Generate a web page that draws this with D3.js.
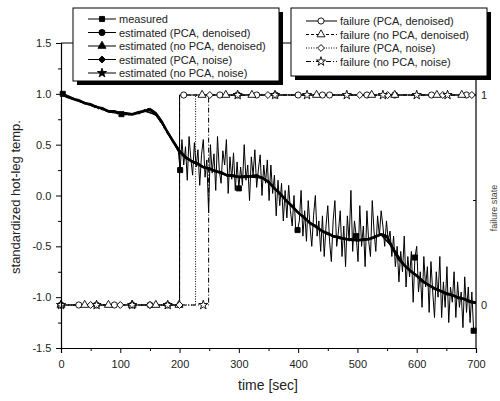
<!DOCTYPE html>
<html>
<head>
<meta charset="utf-8">
<style>
  body { margin: 0; background: #fff; }
  svg { font-family: "Liberation Sans", Arial, sans-serif; }
</style>
</head>
<body>
<svg width="500" height="401"></svg>
<script src="https://d3js.org/d3.v7.min.js"></script>
<script>
// measured temperature, one sample every 3 s starting at t=0
const measStep = 3;
const measured = [
  1.02, 1.00, 0.99, 0.98, 0.97, 0.97, 0.95, 0.96, 0.94, 0.93,
  0.94, 0.92, 0.92, 0.90, 0.91, 0.89, 0.90, 0.88, 0.88, 0.86,
  0.88, 0.85, 0.86, 0.84, 0.85, 0.83, 0.84, 0.82, 0.83, 0.81,
  0.83, 0.81, 0.80, 0.82, 0.80, 0.81, 0.79, 0.81, 0.79, 0.80,
  0.81, 0.79, 0.81, 0.82, 0.80, 0.83, 0.82, 0.85, 0.83, 0.86,
  0.83, 0.85, 0.81, 0.80, 0.77, 0.76, 0.72, 0.71, 0.66, 0.64,
  0.60, 0.58, 0.55, 0.52, 0.50, 0.46, 0.43,
  0.25, 0.55, 0.30, 0.48, 0.15, 0.58, 0.36, 0.20, 0.52, 0.28,
  0.45, 0.10, 0.40, 0.55, 0.18, 0.35, -0.17, 0.50, 0.22, 0.41,
  0.05, 0.58, 0.25, 0.12, 0.44, 0.30, 0.55, 0.02, 0.38, 0.16,
  0.42, 0.05, 0.33, 0.07, 0.28, 0.10, 0.50, 0.15, 0.30, -0.05,
  0.38, 0.20, 0.45, 0.08, 0.26, 0.40, 0.00, 0.30, 0.12, 0.35,
  -0.05, 0.30, 0.02, 0.20, -0.20, 0.15, -0.10, 0.12, -0.25, 0.05,
  -0.22, 0.10, -0.15, -0.30, 0.00, -0.35, -0.34, -0.25, 0.05, -0.40,
  -0.15, -0.45, -0.05, -0.30, -0.50, -0.20, 0.00, -0.40, -0.25, -0.55,
  -0.20, -0.60, -0.30, -0.10, -0.45, -0.65, -0.25, -0.05, -0.50, -0.35,
  -0.15, -0.60, -0.30, -0.70, -0.20, -0.45, 0.05, -0.55, -0.25, -0.40,
  -0.65, -0.10, -0.50, -0.30, -0.70, -0.15, -0.45, -0.60, -0.05, -0.35,
  -0.55, -0.20, -0.40, -0.15, -0.30, -0.50, -0.25, -0.45, -0.35, -0.60,
  -0.40, -0.70, -0.50, -0.85, -0.55, -0.75, -0.40, -0.90, -0.60, -0.80,
  -0.55, -1.05, -0.61, -0.50, -0.95, -0.75, -1.10, -0.60, -0.90, -0.70,
  -1.15, -0.65, -0.95, -1.20, -0.75, -1.00, -0.60, -1.20, -0.85, -1.10,
  -0.70, -1.25, -0.90, -1.05, -0.75, -1.20, -0.85, -1.10, -0.95, -1.30,
  -0.80, -1.15, -0.90, -1.25, -0.95, -1.33, -1.30
];

// estimated temperatures, one sample every 10 s (denoised) / 20 s (noise)
const estDenStep = 10;
const estPcaDen = [
  1.00, 0.97, 0.95, 0.93, 0.91, 0.89, 0.87, 0.85, 0.83, 0.82,
  0.81, 0.80, 0.80, 0.81, 0.83, 0.84, 0.80, 0.72, 0.62, 0.52,
  0.43, 0.37, 0.34, 0.31, 0.28, 0.26, 0.24, 0.22, 0.20, 0.19,
  0.18, 0.18, 0.19, 0.19, 0.17, 0.13, 0.07, 0.01, -0.05, -0.11,
  -0.17, -0.22, -0.27, -0.31, -0.35, -0.38, -0.40, -0.42, -0.43, -0.44,
  -0.44, -0.44, -0.43, -0.41, -0.38, -0.40, -0.52, -0.62, -0.69, -0.74,
  -0.79, -0.84, -0.88, -0.91, -0.94, -0.96, -0.98, -1.00, -1.02, -1.04,
  -1.05
];
const estNoPcaDen = [
  1.01, 0.98, 0.95, 0.94, 0.91, 0.90, 0.87, 0.86, 0.83, 0.83,
  0.81, 0.81, 0.80, 0.82, 0.83, 0.85, 0.81, 0.73, 0.62, 0.53,
  0.44, 0.38, 0.34, 0.32, 0.28, 0.27, 0.24, 0.23, 0.20, 0.20,
  0.18, 0.19, 0.19, 0.20, 0.17, 0.14, 0.07, 0.02, -0.05, -0.10,
  -0.17, -0.21, -0.27, -0.30, -0.35, -0.37, -0.40, -0.41, -0.43, -0.43,
  -0.44, -0.43, -0.43, -0.40, -0.38, -0.41, -0.53, -0.63, -0.69, -0.75,
  -0.79, -0.85, -0.88, -0.92, -0.94, -0.97, -0.98, -1.01, -1.02, -1.05,
  -1.06
];
const estNoiseStep = 20;
const estPcaNoise = [
  1.00, 0.95, 0.91, 0.87, 0.83, 0.81, 0.80, 0.83, 0.80, 0.62,
  0.43, 0.33, 0.28, 0.24, 0.20, 0.18, 0.19, 0.18, 0.07, -0.05,
  -0.17, -0.27, -0.35, -0.40, -0.43, -0.44, -0.43, -0.38, -0.52, -0.69,
  -0.79, -0.88, -0.94, -0.98, -1.02, -1.05
];
const estNoPcaNoise = [
  1.01, 0.96, 0.90, 0.88, 0.82, 0.81, 0.79, 0.84, 0.79, 0.63,
  0.42, 0.34, 0.27, 0.25, 0.19, 0.19, 0.18, 0.17, 0.08, -0.06,
  -0.16, -0.28, -0.34, -0.41, -0.42, -0.45, -0.42, -0.39, -0.51, -0.70,
  -0.78, -0.89, -0.93, -0.99, -1.01, -1.06
];

// failure flags (0/1): time of switch and times where markers sit
const failPcaDenSwitch = 200;
const failPcaDenMarks = [0, 30, 60, 90, 120, 150, 180, 207, 268, 298, 330, 362, 400, 441, 453, 516, 563, 625, 684];
const failNoPcaDenSwitch = 200;
const failNoPcaDenMarks = [0, 40, 80, 120, 160, 199, 238, 278, 322, 431, 524, 563, 634, 676];
const failPcaNoiseSwitch = 227;
const failPcaNoiseMarks = [0, 50, 100, 150, 200, 251, 349, 504, 551, 644, 693];
const failNoPcaNoiseSwitch = 249;
const failNoPcaNoiseMarks = [0, 60, 120, 180, 240, 298, 361, 415, 482, 543, 600, 652];

const xTicks = [0, 100, 200, 300, 400, 500, 600, 700];
const yTicks = [-1.5, -1.0, -0.5, 0.0, 0.5, 1.0, 1.5];
const yRTicks = [0, 1];

const svg = d3.select("svg");
const x = d3.scaleLinear().domain([0, 700]).range([61, 476]);
const y = d3.scaleLinear().domain([-1.5, 1.5]).range([348, 43]);
const yR = d3.scaleLinear().domain([0, 1]).range([305, 95]);

const sym = {
  square: d3.symbol().type(d3.symbolSquare).size(26),
  circle: d3.symbol().type(d3.symbolCircle).size(30),
  triangle: d3.symbol().type(d3.symbolTriangle).size(28),
  diamond: d3.symbol().type(d3.symbolSquare).size(24),
  star: d3.symbol().type(d3.symbolStar).size(26)
};
function marker(g, kind, cx, cy, filled) {
  g.append("path")
    .attr("d", sym[kind]())
    .attr("transform", `translate(${cx},${cy})` + (kind === "diamond" ? " rotate(45)" : ""))
    .attr("fill", filled ? "#000" : "#fff")
    .attr("stroke", "#000")
    .attr("stroke-width", 0.9);
}

const plot = svg.append("g");

// axes
const xAxis = svg.append("g").attr("transform", "translate(0,348)")
  .call(d3.axisBottom(x).tickValues(xTicks).tickSize(5).tickFormat(d3.format("d")));
svg.append("g").attr("transform", "translate(0,348)")
  .call(d3.axisBottom(x).tickValues(d3.range(50, 700, 100)).tickSize(3).tickFormat(""))
  .select(".domain").remove();
const yAxis = svg.append("g").attr("transform", "translate(61,0)")
  .call(d3.axisLeft(y).tickValues(yTicks).tickSize(5).tickFormat(d => d.toFixed(1)));
svg.append("g").attr("transform", "translate(61,0)")
  .call(d3.axisLeft(y).tickValues([-1.25, -0.75, -0.25, 0.25, 0.75, 1.25]).tickSize(3).tickFormat(""))
  .select(".domain").remove();
const yRAxis = svg.append("g").attr("transform", "translate(476,0)")
  .call(d3.axisRight(yR).tickValues(yRTicks).tickSize(0).tickPadding(5).tickFormat(d3.format("d")));
yRAxis.select(".domain").remove();
svg.append("g").attr("transform", "translate(476,0)")
  .call(d3.axisLeft(yR).tickValues([0.5]).tickSize(3).tickFormat(""))
  .select(".domain").remove();

svg.selectAll(".tick text").attr("font-size", 11).attr("fill", "#222")
  .attr("font-family", '"Liberation Sans", Arial, sans-serif');
xAxis.selectAll(".tick text").attr("dy", "1.05em");
yAxis.selectAll(".tick text").attr("dx", "-0.15em");
svg.selectAll(".domain").attr("stroke-width", 1.2);

// frame
svg.append("line").attr("x1", 61).attr("x2", 476).attr("y1", 43).attr("y2", 43).attr("stroke", "#000").attr("stroke-width", 1.2);
svg.append("line").attr("x1", 476).attr("x2", 476).attr("y1", 43).attr("y2", 348).attr("stroke", "#000").attr("stroke-width", 1.2);

// axis titles
svg.append("text").attr("x", 268).attr("y", 390).attr("text-anchor", "middle")
  .attr("font-size", 14).attr("fill", "#222").text("time [sec]");
svg.append("text").attr("transform", "translate(20,197) rotate(-90)").attr("text-anchor", "middle")
  .attr("font-size", 13).attr("fill", "#222").text("standardized hot-leg temp.");
svg.append("text").attr("transform", "translate(497,208) rotate(-90)").attr("text-anchor", "middle")
  .attr("font-size", 9).attr("fill", "#444").text("failure state");

// temperature series
const measLine = d3.line().x((d, i) => x(i * measStep)).y(d => y(d));
plot.append("path").datum(measured).attr("d", measLine)
  .attr("fill", "none").attr("stroke", "#000").attr("stroke-width", 1);

function estLine(arr, step, w) {
  plot.append("path").datum(arr)
    .attr("d", d3.line().x((d, i) => x(i * step)).y(d => y(d)))
    .attr("fill", "none").attr("stroke", "#000").attr("stroke-width", w);
}
estLine(estPcaDen, estDenStep, 2.2);
estLine(estNoPcaDen, estDenStep, 2.2);
estLine(estPcaNoise, estNoiseStep, 1.2);
estLine(estNoPcaNoise, estNoiseStep, 1.2);

measured.forEach((v, i) => { if (i % 33 === 1) marker(plot, "square", x(i * measStep), y(v), true); });

// failure series (right axis)
const failSeries = [
  { sw: failPcaDenSwitch, marks: failPcaDenMarks, kind: "circle", dash: null },
  { sw: failNoPcaDenSwitch, marks: failNoPcaDenMarks, kind: "triangle", dash: "4,2" },
  { sw: failPcaNoiseSwitch, marks: failPcaNoiseMarks, kind: "diamond", dash: "1,1.5" },
  { sw: failNoPcaNoiseSwitch, marks: failNoPcaNoiseMarks, kind: "star", dash: "5,2,1,2" }
];
const stepLine = d3.line().x(d => x(d[0])).y(d => yR(d[1]));
failSeries.forEach(s => {
  const pts = [[0, 0], [s.sw, 0], [s.sw, 1], [700, 1]];
  plot.append("path").datum(pts).attr("d", stepLine)
    .attr("fill", "none").attr("stroke", "#000").attr("stroke-width", 1)
    .attr("stroke-dasharray", s.dash);
});
failSeries.forEach(s => {
  s.marks.forEach(t => marker(plot, s.kind, x(t), yR(t < s.sw ? 0 : 1), false));
});

// legends
function legendBox(x0, y0, w, h) {
  svg.append("rect").attr("x", x0 + 4).attr("y", y0 + 4).attr("width", w).attr("height", h).attr("fill", "#000");
  svg.append("rect").attr("x", x0).attr("y", y0).attr("width", w).attr("height", h)
    .attr("fill", "#fff").attr("stroke", "#000").attr("stroke-width", 1);
}
legendBox(73, 8, 206, 73);
const leg1 = [
  ["measured", "square"],
  ["estimated (PCA, denoised)", "circle"],
  ["estimated (no PCA, denoised)", "triangle"],
  ["estimated (PCA, noise)", "diamond"],
  ["estimated (no PCA, noise)", "star"]
];
leg1.forEach((d, i) => {
  const ly = 19 + i * 13.5;
  svg.append("line").attr("x1", 88).attr("x2", 116).attr("y1", ly).attr("y2", ly).attr("stroke", "#000");
  marker(svg, d[1], 102, ly, true);
  svg.append("text").attr("x", 119).attr("y", ly + 4).attr("font-size", 11).attr("fill", "#222").text(d[0]);
});

legendBox(291, 8, 196, 68);
const leg2 = [
  ["failure (PCA, denoised)", "circle", null],
  ["failure (no PCA, denoised)", "triangle", "3,2"],
  ["failure (PCA, noise)", "diamond", "1,1.5"],
  ["failure (no PCA, noise)", "star", "5,2,1,2"]
];
leg2.forEach((d, i) => {
  const ly = 21 + i * 13.5;
  svg.append("line").attr("x1", 306).attr("x2", 337).attr("y1", ly).attr("y2", ly)
    .attr("stroke", "#000").attr("stroke-dasharray", d[2]);
  marker(svg, d[1], 321, ly, false);
  svg.append("text").attr("x", 340).attr("y", ly + 4).attr("font-size", 11).attr("fill", "#222").text(d[0]);
});
</script>
</body>
</html>
